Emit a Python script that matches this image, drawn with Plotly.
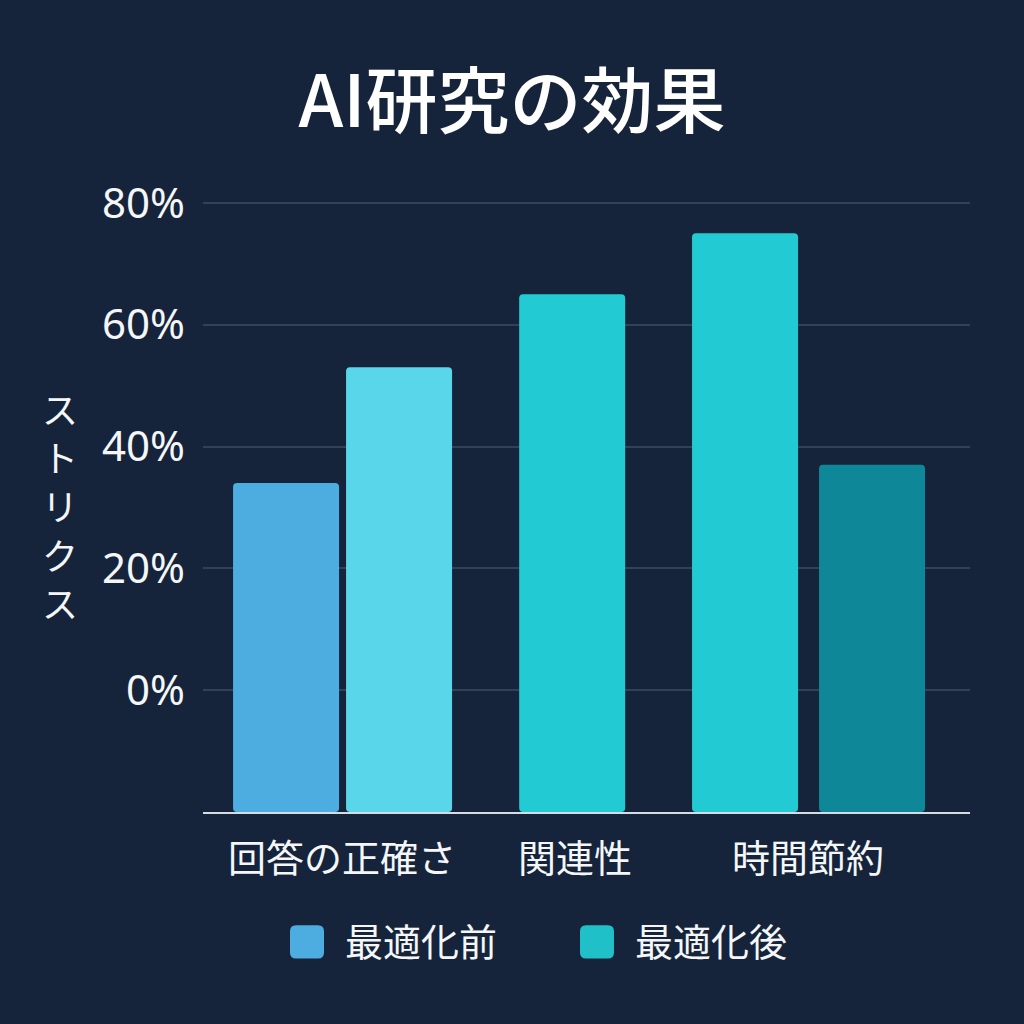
import plotly.graph_objects as go

# Chart data
categories = ["回答の正確さ", "関連性", "時間節約"]
before_cats = ["回答の正確さ", "時間節約"]
before_vals = [34, 75]
before_colors = ["#4EADE0", "#22CBD3"]
after_cats = ["回答の正確さ", "関連性", "時間節約"]
after_vals = [53, 65, 37]
after_colors = ["#5AD6EA", "#22CBD3", "#0E8798"]
legend_names = ["最適化前", "最適化後"]
legend_colors = ["#4EADE0", "#1FC0C8"]
y_ticks = [0, 20, 40, 60, 80]
y_labels = ["0%", "20%", "40%", "60%", "80%"]
y_title = "ストリクス"

BG = "#15243A"
FONT = "Noto Sans CJK JP"
TXT = "#F4F6F8"
BASE = -20

# plot area in pixels (left, right, top, bottom)
L, R, T, B = 203, 970, 203, 812


def px_x(p):
    return (p - L) / (R - L)


def px_y(p):
    return (B - p) / (B - T)


def rounded_box(x0, y0, x1, y1, r):
    # rounded rectangle path, given in pixels, returned in paper coords
    pts = [
        ("M", x0 + r, y0), ("L", x1 - r, y0), ("Q", x1, y0, x1, y0 + r),
        ("L", x1, y1 - r), ("Q", x1, y1, x1 - r, y1), ("L", x0 + r, y1),
        ("Q", x0, y1, x0, y1 - r), ("L", x0, y0 + r), ("Q", x0, y0, x0 + r, y0),
    ]
    out = []
    for p in pts:
        cmd, vals = p[0], p[1:]
        coords = []
        for i in range(0, len(vals), 2):
            coords.append(f"{px_x(vals[i]):.5f},{px_y(vals[i + 1]):.5f}")
        out.append(cmd + " ".join(coords))
    return " ".join(out) + " Z"


fig = go.Figure()

fig.add_trace(go.Bar(
    x=before_cats,
    y=[v - BASE for v in before_vals],
    base=BASE,
    width=0.455,
    offset=[-0.468, -0.498],
    marker=dict(color=before_colors, line=dict(width=0), cornerradius=4),
    name=legend_names[0],
    showlegend=False,
))
fig.add_trace(go.Bar(
    x=after_cats,
    y=[v - BASE for v in after_vals],
    base=BASE,
    width=0.455,
    offset=[0.017, -0.24, 0.047],
    marker=dict(color=after_colors, line=dict(width=0), cornerradius=4),
    name=legend_names[1],
    showlegend=False,
))

# manual legend: rounded squares + labels
shapes = []
annotations = []
legend_x = [290, 580]
for i, name in enumerate(legend_names):
    shapes.append(dict(
        type="path", xref="paper", yref="paper",
        path=rounded_box(legend_x[i], 925, legend_x[i] + 34, 958, 6),
        fillcolor=legend_colors[i], line=dict(width=0), layer="above",
    ))
    annotations.append(dict(
        text=name, xref="paper", yref="paper",
        x=px_x(legend_x[i] + 53), y=px_y(939),
        xanchor="left", yanchor="middle", showarrow=False,
        font=dict(family=FONT, size=38, color=TXT),
    ))

# vertical y-axis title, one character per line
for i, ch in enumerate(y_title):
    annotations.append(dict(
        text=ch, xref="paper", yref="paper",
        x=px_x(60), y=px_y(409 + i * 48.5),
        xanchor="center", yanchor="middle", showarrow=False,
        font=dict(family=FONT, size=36, color=TXT),
    ))

fig.update_layout(
    width=1024,
    height=1024,
    paper_bgcolor=BG,
    plot_bgcolor=BG,
    margin=dict(l=L, r=1024 - R, t=T - 2, b=1024 - B),
    font=dict(family=FONT, color=TXT),
    title=dict(
        text="AI研究の効果",
        x=0.5, xref="container", xanchor="center",
        y=1 - 102 / 1024, yref="container", yanchor="middle",
        font=dict(family=FONT, size=72, color="#FFFFFF", weight=500),
    ),
    barmode="overlay",
    showlegend=False,
    shapes=shapes,
    annotations=annotations,
    xaxis=dict(
        type="category",
        categoryorder="array",
        categoryarray=categories,
        range=[-0.597, 2.695],
        showgrid=False,
        showline=True,
        linecolor="#D5DCE3",
        linewidth=2,
        ticks="",
        ticklabelstandoff=12,
        tickfont=dict(family=FONT, size=38, color=TXT),
        fixedrange=True,
    ),
    yaxis=dict(
        range=[BASE, 80.3],
        tickvals=y_ticks,
        ticktext=y_labels,
        showgrid=True,
        gridcolor="#314257",
        gridwidth=2,
        zeroline=False,
        showline=False,
        ticks="",
        ticklabelstandoff=17,
        tickfont=dict(family="Noto Sans", size=42, color=TXT),
        fixedrange=True,
    ),
)

fig.write_html(
    "out.html",
    config={"displayModeBar": False},
    post_script="document.body.style.margin='0';",
)
